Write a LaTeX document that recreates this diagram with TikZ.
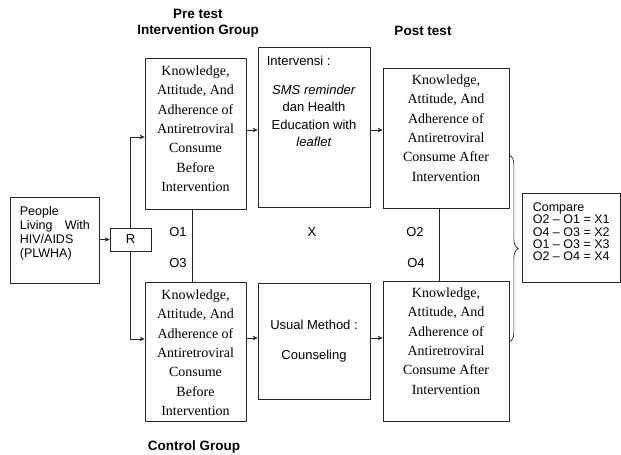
\documentclass[tikz,border=0pt]{standalone}
\usepackage{fontspec}
\setmainfont{Liberation Serif}
\setsansfont{Liberation Sans}
\usetikzlibrary{arrows.meta,decorations.pathreplacing}

\begin{document}
\begin{tikzpicture}[x=1pt, y=-1pt]
    % Styles
    \tikzstyle{box} = [draw=black!85, line width=0.7pt, inner sep=0pt]
    \tikzstyle{serif} = [inner sep=0pt, align=center, font=\fontsize{14}{19.3}\selectfont]
    \tikzstyle{sans} = [inner sep=0pt, font=\sffamily\fontsize{13}{17.5}\selectfont]
    \tikzstyle{title} = [inner sep=0pt, align=center, font=\sffamily\bfseries\fontsize{13.5}{16}\selectfont]
    \tikzstyle{line} = [draw=black!85, line width=0.7pt]
    \tikzstyle{arrow} = [line, -{Stealth[length=5pt, width=4.5pt]}]

    \useasboundingbox (0,0) rectangle (621,455);

    % Boxes
    \node[box, minimum width=89pt, minimum height=86pt] (people) at (54.5,240) {};
    \node[box, sans, minimum width=41pt, minimum height=23pt] (R) at (130.5,239.5) {R};
    \node[box, minimum width=101pt, minimum height=151pt] (preI) at (195.5,133.5) {};
    \node[box, minimum width=101pt, minimum height=139pt] (preC) at (195.5,351.5) {};
    \node[box, minimum width=112pt, minimum height=160pt] (interv) at (314,127) {};
    \node[box, minimum width=112pt, minimum height=116pt] (usual) at (314,341) {};
    \node[box, minimum width=126pt, minimum height=140pt] (postI) at (446,138) {};
    \node[box, minimum width=126pt, minimum height=140pt] (postC) at (446,351) {};
    \node[box, minimum width=98pt, minimum height=89pt] (compare) at (571,237.5) {};

    % Box texts
    \node[sans, align=left, anchor=north west, font=\sffamily\fontsize{12.5}{13.7}\selectfont] (peopleT)
        at ([shift={(10,10)}]people.north west)
        {People\\ \makebox[70pt][s]{Living With}\\ HIV/AIDS\\ (PLWHA)};
    \node[serif, anchor=north] (preIT) at ([yshift=-8pt]preI.north)
        {Knowledge,\\ Attitude, And\\ Adherence of\\ Antiretroviral\\ Consume\\ Before\\ Intervention};
    \node[serif, anchor=north] (preCT) at ([yshift=-8pt]preC.north)
        {Knowledge,\\ Attitude, And\\ Adherence of\\ Antiretroviral\\ Consume\\ Before\\ Intervention};
    \node[sans, anchor=north west] (intervT) at ([shift={(9,9)}]interv.north west) {Intervensi :};
    \node[sans, align=center, anchor=north] (intervB) at ([yshift=-38pt]interv.north)
        {\textit{SMS reminder}\\ dan Health\\ Education with\\ \textit{leaflet}};
    \node[sans, align=center] (usualT) at (usual.center) {Usual Method :\\[12pt] Counseling};
    \node[serif, anchor=north] (postIT) at ([yshift=-7pt]postI.north)
        {Knowledge,\\ Attitude, And\\ Adherence of\\ Antiretroviral\\ Consume After\\ Intervention};
    \node[serif, anchor=north] (postCT) at ([yshift=-7pt]postC.north)
        {Knowledge,\\ Attitude, And\\ Adherence of\\ Antiretroviral\\ Consume After\\ Intervention};
    \node[sans, align=left, anchor=north west, font=\sffamily\fontsize{12.5}{12.3}\selectfont] (compareT)
        at ([shift={(11,10)}]compare.north west)
        {Compare\\ O2 – O1 = X1\\ O4 – O3 = X2\\ O1 – O3 = X3\\ O2 – O4 = X4};

    % Observation labels
    \node[sans] (o1) at (178,232) {O1};
    \node[sans] (o3) at (178,263) {O3};
    \node[sans] (x) at (312,232) {X};
    \node[sans] (o2) at (415,232) {O2};
    \node[sans] (o4) at (416,263) {O4};

    % Titles
    \node[title] (preTitle) at (198,23) {Pre test\\ Intervention Group};
    \node[title] (postTitle) at (423,31) {Post test};
    \node[title] (ctrlTitle) at (194,447) {Control Group};

    % Rows and columns
    \coordinate (rowR1) at (0,137);
    \coordinate (rowR2) at (0,339);
    \coordinate (rowI) at (0,130);
    \coordinate (rowC) at (0,338);
    \coordinate (colPre) at (192,0);
    \coordinate (colPost) at (439,0);
    \coordinate (bTop) at (0,155);
    \coordinate (bBot) at (0,342);

    % Arrows
    \draw[arrow] (people.east |- R.west) -- (R.west);
    \draw[arrow] (R.north) |- (preI.west |- rowR1);
    \draw[arrow] (R.south) |- (preC.west |- rowR2);
    \draw[arrow] (preI.east |- rowI) -- (interv.west |- rowI);
    \draw[arrow] (interv.east |- rowI) -- (postI.west |- rowI);
    \draw[arrow] (preC.east |- rowC) -- (usual.west |- rowC);
    \draw[arrow] (usual.east |- rowC) -- (postC.west |- rowC);

    % Links
    \draw[line] (preI.south -| colPre) -- (preC.north -| colPre);
    \draw[line] (postI.south -| colPost) -- (postC.north -| colPost);
    \draw[line, decorate, decoration={brace, amplitude=9pt}] (postI.east |- bTop) -- (postC.east |- bBot);
\end{tikzpicture}
\end{document}
